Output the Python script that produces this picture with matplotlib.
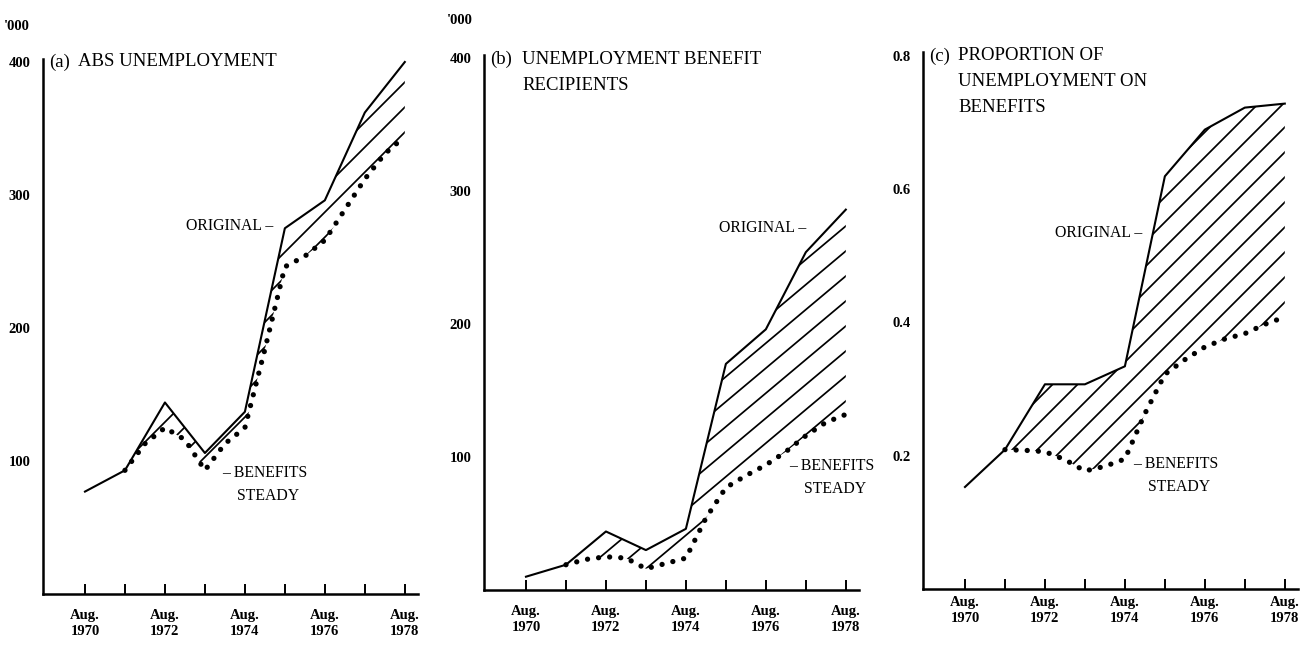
import matplotlib.pyplot as plt
import numpy as np
from matplotlib.collections import LineCollection
from matplotlib.patches import Polygon

plt.rcParams['font.family'] = 'serif'
plt.rcParams['font.serif'] = ['Liberation Serif', 'DejaVu Serif']

# data
years = [1970, 1971, 1972, 1973, 1974, 1975, 1976, 1977, 1978]
half_years = [1971, 1971.5, 1972, 1972.5, 1973, 1973.5, 1974, 1974.5,
              1975, 1975.5, 1976, 1976.5, 1977, 1977.5, 1978]
tick_labels = ['Aug.\n1970', '', 'Aug.\n1972', '', 'Aug.\n1974', '',
               'Aug.\n1976', '', 'Aug.\n1978']

abs_original = [77, 93, 144, 106, 137, 275, 296, 362, 400]
abs_steady = [93, 113, 125, 116, 93, 113, 125, 184, 246, 254, 266, 289, 312, 331, 344]

recip_original = [10, 19, 44, 30, 46, 170, 196, 254, 286]
recip_steady = [19, 23, 25, 24, 16, 20, 24, 54, 77, 86, 94, 104, 116, 126, 132]

prop_original = [0.153, 0.209, 0.307, 0.307, 0.334, 0.619, 0.689, 0.722, 0.728]
prop_steady = [0.209, 0.208, 0.206, 0.194, 0.177, 0.184, 0.195, 0.263, 0.322,
               0.344, 0.363, 0.375, 0.383, 0.397, 0.408]

W_PX, H_PX = 1304, 653
fig = plt.figure(figsize=(W_PX / 100, H_PX / 100), dpi=100)


def ftext(x, y, s, **kw):
    # place text with pixel coordinates (from top-left)
    fig.text(x / W_PX, 1 - y / H_PX, s, va='center', **kw)


def panel(left, bottom, ppu, ytop, yticks, ylabels, orig, steady, angle, xpad):
    width = 375
    height = ytop * ppu
    ax = fig.add_axes([left / W_PX, (H_PX - bottom) / H_PX, width / W_PX, height / H_PX])
    ax.set_xlim(1968.95, 1978.33)
    ax.set_ylim(0, ytop)
    for s in ['top', 'right']:
        ax.spines[s].set_visible(False)
    ax.spines['left'].set_linewidth(1.8)
    ax.spines['bottom'].set_linewidth(1.8)

    # hatched band between the two series
    xs = np.r_[years[1:], half_years[::-1]]
    ys = np.r_[orig[1:], steady[::-1]]
    poly = Polygon(np.column_stack([xs, ys]), closed=True, fc='none', ec='none')
    ax.add_patch(poly)
    k = np.tan(np.radians(angle)) * width / height
    step = 25 / height
    segs = [[(0, c), (1, c + k)] for c in np.arange(-k, 1, step)]
    lc = LineCollection(segs, colors='black', linewidths=1.25, transform=ax.transAxes)
    ax.add_collection(lc, autolim=False)
    lc.set_clip_path(poly)

    ax.plot(years, orig, color='black', lw=1.5)
    ax.plot(half_years, steady, color='black', lw=3.8,
            linestyle=(0, (0.01, 2.1)), dash_capstyle='round')

    ax.set_xticks(years)
    ax.set_xticklabels(tick_labels, fontsize=10.5, fontweight='bold', linespacing=1.3)
    ax.tick_params(axis='x', direction='in', length=7, width=1.4, pad=xpad)
    ax.set_yticks(yticks)
    ax.set_yticklabels(ylabels, fontsize=10.5, fontweight='bold')
    ax.tick_params(axis='y', length=0, pad=9)
    return ax


ax1 = panel(43, 594, 1.33, 402, [100, 200, 300, 400], ['100', '200', '300', '400'],
            abs_original, abs_steady, 45, 11)
ax2 = panel(484, 590, 1.33, 402, [100, 200, 300, 400], ['100', '200', '300', '400'],
            recip_original, recip_steady, 40, 11)
ax3 = panel(923, 589, 666.75, 0.805, [0.2, 0.4, 0.6, 0.8], ['0.2', '0.4', '0.6', '0.8'],
            prop_original, prop_steady, 45, 5)

# titles and units
tsize = 13.5
ftext(4, 27, "'000", fontsize=10.5, fontweight='bold')
ftext(447, 21, "'000", fontsize=10.5, fontweight='bold')
ftext(49, 62, '(a)', fontsize=tsize)
ftext(78, 62, 'ABS UNEMPLOYMENT', fontsize=tsize)
ftext(490, 59, '(b)', fontsize=tsize)
ftext(522, 59, 'UNEMPLOYMENT BENEFIT', fontsize=tsize)
ftext(522, 86, 'RECIPIENTS', fontsize=tsize)
ftext(929, 56, '(c)', fontsize=tsize)
ftext(958, 56, 'PROPORTION OF', fontsize=tsize)
ftext(958, 82, 'UNEMPLOYMENT ON', fontsize=tsize)
ftext(958, 108, 'BENEFITS', fontsize=tsize)

# series annotations
asize = 11.3
ax1.text(1974.7, 277, 'ORIGINAL –', ha='right', va='center', fontsize=asize)
ax1.text(1973.43, 91, '– BENEFITS', ha='left', va='center', fontsize=asize)
ax1.text(1973.8, 74, 'STEADY', ha='left', va='center', fontsize=asize)
ax2.text(1977.0, 272, 'ORIGINAL –', ha='right', va='center', fontsize=asize)
ax2.text(1976.58, 93, '– BENEFITS', ha='left', va='center', fontsize=asize)
ax2.text(1976.95, 76, 'STEADY', ha='left', va='center', fontsize=asize)
ax3.text(1974.43, 0.534, 'ORIGINAL –', ha='right', va='center', fontsize=asize)
ax3.text(1974.2, 0.1875, '– BENEFITS', ha='left', va='center', fontsize=asize)
ax3.text(1974.58, 0.153, 'STEADY', ha='left', va='center', fontsize=asize)

fig.savefig('out.png', dpi=100)
